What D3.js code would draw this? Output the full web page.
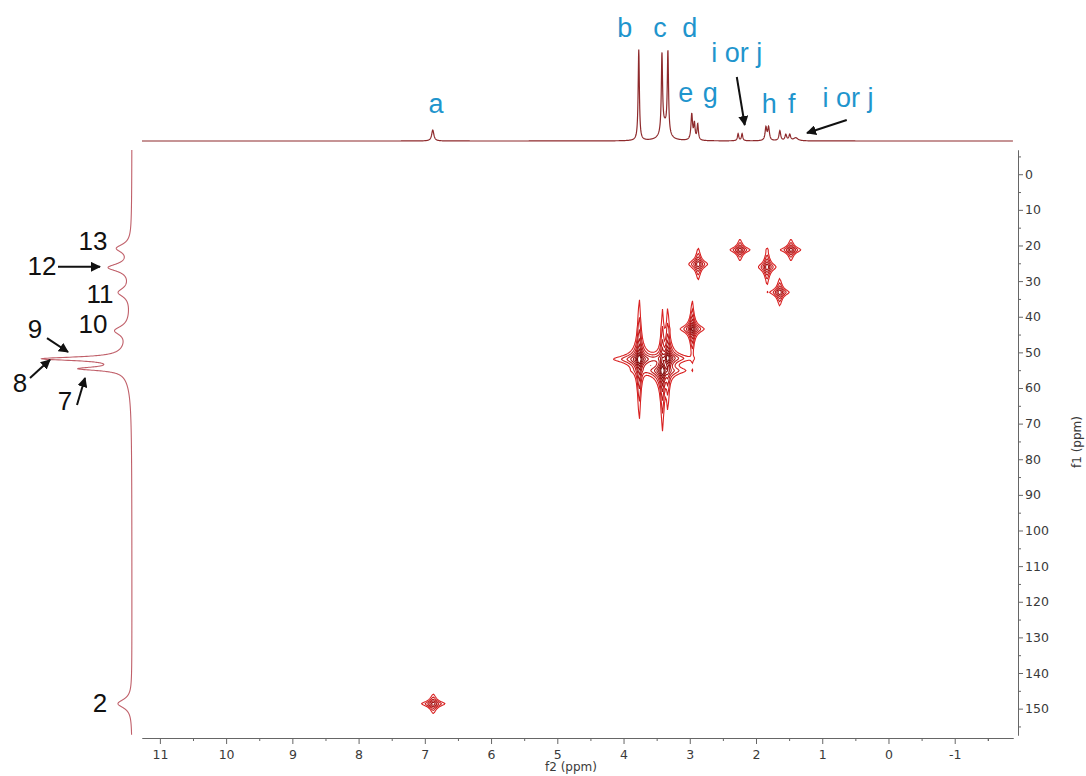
<!DOCTYPE html>
<html>
<head>
<meta charset="utf-8">
<script src="https://cdn.jsdelivr.net/npm/d3@7"></script>
<style>
  body { margin: 0; background: #fff; }
  svg text { font-family: "DejaVu Sans", sans-serif; }
</style>
</head>
<body>
<div id="chart"></div>
<script>
// 1H projection (f2, top): shift in ppm, height, half width
const hShift  = [6.88, 3.77, 3.42, 3.33, 3.38, 2.97, 2.93, 2.88, 2.27, 2.21, 1.85, 1.81, 1.64, 1.55, 1.49, 1.40];
const hHeight = [11,   91,   78,   82,   14,   26,   16,   16,   7,    7,    13,   13,   10,   6,    6,    3];
const hWidth  = [0.02, 0.011,0.011,0.011,0.06, 0.014,0.012,0.012,0.012,0.012,0.015,0.015,0.015,0.015,0.015,0.04];

// 13C projection (f1, left)
const cShift  = [20.8, 26.2, 33.2, 43.9, 51.8, 54.6, 52.5, 148.6];
const cHeight = [14,   22,   12,   14,   78,   42,   10,   14];
const cWidth  = [1.4,  1.3,  1.5,  1.5,  0.6,  0.6,  5,    1.5];

// HSQC cross peaks
const crossF2  = [3.77, 3.42, 3.34, 2.97, 2.88, 2.25, 1.84, 1.65, 1.48, 6.88];
const crossF1  = [51.8, 55.0, 51.5, 43.3, 25.1, 21.1, 25.9, 33.0, 21.1, 148.5];
const crossAmp = [400,  350,  300,  100,  30,   25,   30,   30,   25,   25];
const crossW2  = [0.018,0.018,0.018,0.018,0.026,0.03, 0.024,0.026,0.03, 0.036];
const crossW1  = [0.85, 0.9,  0.8,  0.8,  0.8,  0.6,  0.9,  0.7,  0.6,  0.55];

// axis ticks
const f2Ticks = [11, 10, 9, 8, 7, 6, 5, 4, 3, 2, 1, 0, -1];
const f1Ticks = [0, 10, 20, 30, 40, 50, 60, 70, 80, 90, 100, 110, 120, 130, 140, 150];

// assignments: top (ppm, height) and left (ppm, height)
const hLabels = ["a", "b", "c", "d", "i or j", "e", "g", "h", "f", "i or j"];
const hLabelPpm = [6.83, 3.98, 3.45, 3.0, 2.29, 3.06, 2.69, 1.80, 1.46, 0.61];
const hLabelLevel = [28, 104, 104, 104, 79, 39, 39, 28, 28, 34];
const hArrows = [[2.29, 64, 2.17, 16], [0.63, 21, 1.23, 8]];

const cLabels = ["13", "12", "11", "10", "9", "8", "7", "2"];
const cLabelPpm = [21.3, 28.3, 36.1, 44.6, 46.0, 61.1, 66.2, 150.9];
const cLabelLevel = [39, 90, 32, 39, 97, 112, 67, 32];
const cArrows = [[26.0, 74, 26.0, 32], [46.0, 85, 49.9, 64], [57.2, 102, 52.1, 82], [64.8, 55, 57.2, 47]];

const W = 1086, H = 776;
const svg = d3.select('#chart').append('svg')
    .attr('width', W).attr('height', H);

let x = d3.scaleLinear().domain([11.27, -1.88]).range([142, 1013]);
let y = d3.scaleLinear().domain([-6.8, 157.4]).range([150, 735]);
let yTop = d3.scaleLinear().domain([0, 100]).range([141, 41]);
let xSide = d3.scaleLinear().domain([0, 100]).range([132, 32]);

function lorentz(p, c, h, w) {
    let s = 0;
    for (let k = 0; k < c.length; k++) {
        let u = (p - c[k]) / w[k];
        s += h[k] / (1 + u * u);
    }
    return s;
}

// top 1D trace
let hPts = d3.range(11.27, -1.88, -0.003).map(p => [p, lorentz(p, hShift, hHeight, hWidth)]);
svg.append('path')
    .datum(hPts)
    .attr('fill', 'none')
    .attr('stroke', '#8e2a2c')
    .attr('stroke-width', 1.2)
    .attr('d', d3.line().x(d => x(d[0])).y(d => yTop(d[1])));

// left 1D trace
let cPts = d3.range(-6.8, 157.4, 0.04).map(p => [p, lorentz(p, cShift, cHeight, cWidth)]);
svg.append('path')
    .datum(cPts)
    .attr('fill', 'none')
    .attr('stroke', '#c0606a')
    .attr('stroke-width', 1.1)
    .attr('d', d3.line().x(d => xSide(d[1])).y(d => y(d[0])));

// 2D contours
const gx0 = 400, gx1 = 830, gy0 = 215, gy1 = 735;
const n = gx1 - gx0, m = gy1 - gy0;
const values = new Float64Array(n * m);
for (let j = 0; j < m; j++) {
    const f1 = y.invert(gy0 + j);
    for (let i = 0; i < n; i++) {
        const f2 = x.invert(gx0 + i);
        let v = 0;
        for (let k = 0; k < crossF2.length; k++) {
            const u = (f2 - crossF2[k]) / crossW2[k], w = (f1 - crossF1[k]) / crossW1[k];
            v += crossAmp[k] / ((1 + u * u) * (1 + w * w));
        }
        values[j * n + i] = v;
    }
}
const levels = [1, 2, 4, 8, 16, 32, 64, 128];
const levelColor = d3.scaleLinear().domain([0, levels.length - 1]).range(['#d92222', '#7e0a0a']);
const contours = d3.contours().size([n, m]).thresholds(levels)(values);
svg.append('g')
    .attr('transform', 'translate(' + gx0 + ',' + gy0 + ')')
    .selectAll('path')
    .data(contours)
    .join('path')
    .attr('fill', 'none')
    .attr('stroke', (d, i) => levelColor(i))
    .attr('stroke-width', 1.1)
    .attr('d', d3.geoPath());

// axes
let fmt = d => String(d);
svg.append('g')
    .attr('transform', 'translate(0,738)')
    .call(d3.axisBottom(x).tickValues(f2Ticks).tickSize(6).tickSizeOuter(0).tickPadding(6).tickFormat(fmt));
svg.append('g')
    .attr('transform', 'translate(0,738)')
    .call(d3.axisBottom(x).tickValues(f2Ticks.map(d => d - 0.5).concat([-1.5])).tickSize(3).tickSizeOuter(0).tickFormat(''));
svg.append('g')
    .attr('transform', 'translate(1018,0)')
    .call(d3.axisRight(y).tickValues(f1Ticks).tickSize(5).tickSizeOuter(0).tickPadding(2).tickFormat(fmt));
svg.append('g')
    .attr('transform', 'translate(1018,0)')
    .call(d3.axisRight(y).tickValues([-5].concat(f1Ticks.map(d => d + 5))).tickSize(3).tickSizeOuter(0).tickFormat(''));

svg.selectAll('.domain, .tick line').attr('stroke', '#666');
svg.selectAll('.tick text').attr('fill', '#3a3a3a').style('font-size', '12.5px');

svg.append('text')
    .attr('x', 571).attr('y', 771)
    .attr('text-anchor', 'middle')
    .attr('fill', '#3a3a3a')
    .style('font-size', '12px')
    .text('f2 (ppm)');
svg.append('text')
    .attr('transform', 'translate(1081,442) rotate(-90)')
    .attr('text-anchor', 'middle')
    .attr('fill', '#3a3a3a')
    .style('font-size', '12px')
    .text('f1 (ppm)');

// arrowhead
svg.append('defs').append('marker')
    .attr('id', 'head')
    .attr('viewBox', '0 0 10 10')
    .attr('refX', 9).attr('refY', 5)
    .attr('markerWidth', 5).attr('markerHeight', 5)
    .attr('markerUnits', 'strokeWidth')
    .attr('orient', 'auto')
    .append('path')
    .attr('d', 'M0,0 L10,5 L0,10 z')
    .attr('fill', '#111');

// labels on top trace
svg.append('g').selectAll('text')
    .data(hLabels)
    .join('text')
    .attr('x', (d, i) => x(hLabelPpm[i]))
    .attr('y', (d, i) => yTop(hLabelLevel[i]))
    .attr('text-anchor', 'middle')
    .attr('fill', '#1f95cd')
    .style('font-family', '"Liberation Sans", Arial, sans-serif')
    .style('font-size', '27px')
    .text(d => d);
svg.append('g').selectAll('line')
    .data(hArrows)
    .join('line')
    .attr('x1', d => x(d[0])).attr('y1', d => yTop(d[1]))
    .attr('x2', d => x(d[2])).attr('y2', d => yTop(d[3]))
    .attr('stroke', '#111').attr('stroke-width', 2)
    .attr('marker-end', 'url(#head)');

// labels on left trace
svg.append('g').selectAll('text')
    .data(cLabels)
    .join('text')
    .attr('x', (d, i) => xSide(cLabelLevel[i]))
    .attr('y', (d, i) => y(cLabelPpm[i]))
    .attr('text-anchor', 'middle')
    .attr('fill', '#111')
    .style('font-family', '"Liberation Sans", Arial, sans-serif')
    .style('font-size', '26px')
    .text(d => d);
svg.append('g').selectAll('line')
    .data(cArrows)
    .join('line')
    .attr('x1', d => xSide(d[1])).attr('y1', d => y(d[0]))
    .attr('x2', d => xSide(d[3])).attr('y2', d => y(d[2]))
    .attr('stroke', '#111').attr('stroke-width', 2)
    .attr('marker-end', 'url(#head)');
</script>
</body>
</html>
